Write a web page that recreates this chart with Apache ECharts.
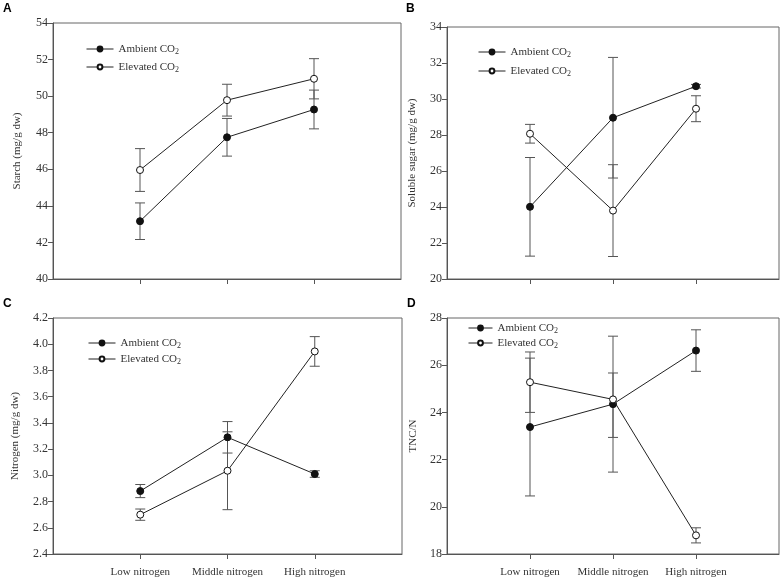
<!DOCTYPE html>
<html>
<head>
<meta charset="utf-8">
<script src="https://cdn.jsdelivr.net/npm/echarts@6/dist/echarts.min.js"></script>
<style>
  html, body { margin: 0; padding: 0; background: #fff; }
  #chart { width: 783px; height: 578px; }
</style>
</head>
<body>
<div id="chart"></div>
<script>
// ---------- data ----------
const categories = ['Low nitrogen', 'Middle nitrogen', 'High nitrogen'];
const seriesNames = ['Ambient CO2', 'Elevated CO2'];

// Panel A: Starch (mg/g dw)
const starchAmbient = [43.16, 47.75, 49.27];
const starchAmbientErr = [1.0, 1.03, 1.06];
const starchElevated = [45.96, 49.78, 50.95];
const starchElevatedErr = [1.17, 0.87, 1.1];

// Panel B: Soluble sugar (mg/g dw)
const sugarAmbient = [24.01, 28.96, 30.71];
const sugarAmbientErr = [2.74, 3.35, 0.1];
const sugarElevated = [28.07, 23.80, 29.46];
const sugarElevatedErr = [0.52, 2.55, 0.72];

// Panel C: Nitrogen (mg/g dw)
const nitrogenAmbient = [2.88, 3.29, 3.01];
const nitrogenAmbientErr = [0.05, 0.12, 0.025];
const nitrogenElevated = [2.70, 3.035, 3.945];
const nitrogenElevatedErr = [0.043, 0.297, 0.113];

// Panel D: TNC/N  (error given as [down, up] where asymmetric)
const tncAmbient = [23.38, 24.35, 26.62];
const tncAmbientErr = [2.92, 2.88, 0.88];
const tncElevated = [25.28, 24.55, 18.79];
const tncElevatedErr = [1.28, [1.61, 1.12], 0.32];

// Axis ranges and tick labels
const yRanges = [
  { min: 40, max: 54, interval: 2, name: 'Starch (mg/g dw)', dec: 0 },
  { min: 20, max: 34, interval: 2, name: 'Soluble sugar (mg/g dw)', dec: 0 },
  { min: 2.4, max: 4.2, interval: 0.2, name: 'Nitrogen (mg/g dw)', dec: 1 },
  { min: 18, max: 28, interval: 2, name: 'TNC/N', dec: 0 }
];
const panelLetters = ['A', 'B', 'C', 'D'];

// ---------- layout ----------
const grids = [
  { left: 53, top: 23, width: 348, height: 256 },
  { left: 447, top: 27, width: 332, height: 252 },
  { left: 53, top: 318, width: 349, height: 236 },
  { left: 447, top: 318, width: 332, height: 236 }
];
const letterPos = [[3, 3], [406, 3], [3, 298], [407, 298]];
const legendPos = [
  { left: 81, top: 37, gap: 4, w: 27 },
  { left: 473, top: 40, gap: 5, w: 27 },
  { left: 83, top: 331, gap: 2, w: 27 },
  { left: 463, top: 316, gap: 1, w: 24 }
];
const nameGaps = [30, 29, 32, 28];

const panels = [
  [starchAmbient, starchAmbientErr, starchElevated, starchElevatedErr],
  [sugarAmbient, sugarAmbientErr, sugarElevated, sugarElevatedErr],
  [nitrogenAmbient, nitrogenAmbientErr, nitrogenElevated, nitrogenElevatedErr],
  [tncAmbient, tncAmbientErr, tncElevated, tncElevatedErr]
];

const FONT = 'Liberation Serif';
const TXT = '#333';

function errData(vals, errs) {
  return vals.map((v, i) => {
    const e = errs[i];
    const dn = Array.isArray(e) ? e[0] : e;
    const up = Array.isArray(e) ? e[1] : e;
    return [i + 1, v - dn, v + up];
  });
}

function errRender(params, api) {
  const x = api.value(0);
  const lo = api.coord([x, api.value(1)]);
  const hi = api.coord([x, api.value(2)]);
  const hw = 5;
  const st = { stroke: '#555', lineWidth: 1 };
  return {
    type: 'group',
    children: [
      { type: 'line', shape: { x1: lo[0], y1: lo[1], x2: hi[0], y2: hi[1] }, style: st },
      { type: 'line', shape: { x1: lo[0] - hw, y1: lo[1], x2: lo[0] + hw, y2: lo[1] }, style: st },
      { type: 'line', shape: { x1: hi[0] - hw, y1: hi[1], x2: hi[0] + hw, y2: hi[1] }, style: st }
    ]
  };
}

const option = {
  animation: false,
  backgroundColor: '#fff',
  textStyle: { fontFamily: FONT },
  grid: [], xAxis: [], yAxis: [], series: [], legend: [], title: []
};

grids.forEach((g, k) => {
  option.grid.push(Object.assign({ show: true, borderColor: '#666', borderWidth: 1, containLabel: false }, g));
  const bottomRow = k >= 2;
  option.xAxis.push({
    type: 'value', gridIndex: k, min: 0, max: 4, interval: 1,
    axisLine: { show: true, lineStyle: { color: '#555' } },
    axisTick: { show: true, length: 5, customValues: [1, 2, 3], lineStyle: { color: '#555' } },
    axisLabel: {
      show: bottomRow, customValues: [1, 2, 3], margin: 13,
      color: TXT, fontFamily: FONT, fontSize: 11,
      formatter: v => categories[Math.round(v) - 1] || ''
    },
    splitLine: { show: false }
  });
  const yr = yRanges[k];
  option.yAxis.push({
    type: 'value', gridIndex: k, min: yr.min, max: yr.max, interval: yr.interval,
    name: yr.name, nameLocation: 'middle', nameGap: nameGaps[k], nameRotate: 90,
    nameTextStyle: { color: TXT, fontFamily: FONT, fontSize: 11 },
    axisLine: { show: true, lineStyle: { color: '#555' } },
    axisTick: { show: true, length: 5, lineStyle: { color: '#555' } },
    axisLabel: { color: TXT, fontFamily: FONT, fontSize: 12, margin: 5,
      formatter: v => Number(v).toFixed(yr.dec) },
    splitLine: { show: false }
  });

  const [amb, ambErr, elev, elevErr] = panels[k];
  option.series.push(
    { type: 'custom', name: 'errA' + k, xAxisIndex: k, yAxisIndex: k, renderItem: errRender,
      data: errData(amb, ambErr), z: 1, silent: true },
    { type: 'custom', name: 'errE' + k, xAxisIndex: k, yAxisIndex: k, renderItem: errRender,
      data: errData(elev, elevErr), z: 1, silent: true },
    { type: 'line', name: seriesNames[0], xAxisIndex: k, yAxisIndex: k,
      data: amb.map((v, i) => [i + 1, v]),
      symbol: 'circle', symbolSize: 7,
      lineStyle: { color: '#222', width: 1 },
      itemStyle: { color: '#111', borderColor: '#111', borderWidth: 1 }, z: 3 },
    { type: 'line', name: seriesNames[1], xAxisIndex: k, yAxisIndex: k,
      data: elev.map((v, i) => [i + 1, v]),
      symbol: 'circle', symbolSize: 7,
      lineStyle: { color: '#222', width: 1 },
      itemStyle: { color: '#fff', borderColor: '#111', borderWidth: 1 }, z: 4 }
  );

  const lp = legendPos[k];
  option.legend.push({
    data: seriesNames, orient: 'vertical', left: lp.left, top: lp.top,
    itemGap: lp.gap, itemWidth: lp.w, itemHeight: 6, selectedMode: false,
    lineStyle: { width: 1, color: '#222' },
    textStyle: { color: TXT, fontFamily: FONT, fontSize: 11, lineHeight: 14,
      rich: { s: { fontSize: 8, fontFamily: FONT, color: TXT, padding: [6, 0, 0, 0] } } },
    formatter: n => n.replace('CO2', 'CO{s|2}')
  });

  option.title.push({
    text: panelLetters[k], left: letterPos[k][0], top: letterPos[k][1], padding: 0,
    textStyle: { fontFamily: 'Liberation Sans', fontWeight: 'bold', fontSize: 12, color: '#000' }
  });
});

const chart = echarts.init(document.getElementById('chart'), null, { renderer: 'canvas' });
chart.setOption(option);
</script>
</body>
</html>
